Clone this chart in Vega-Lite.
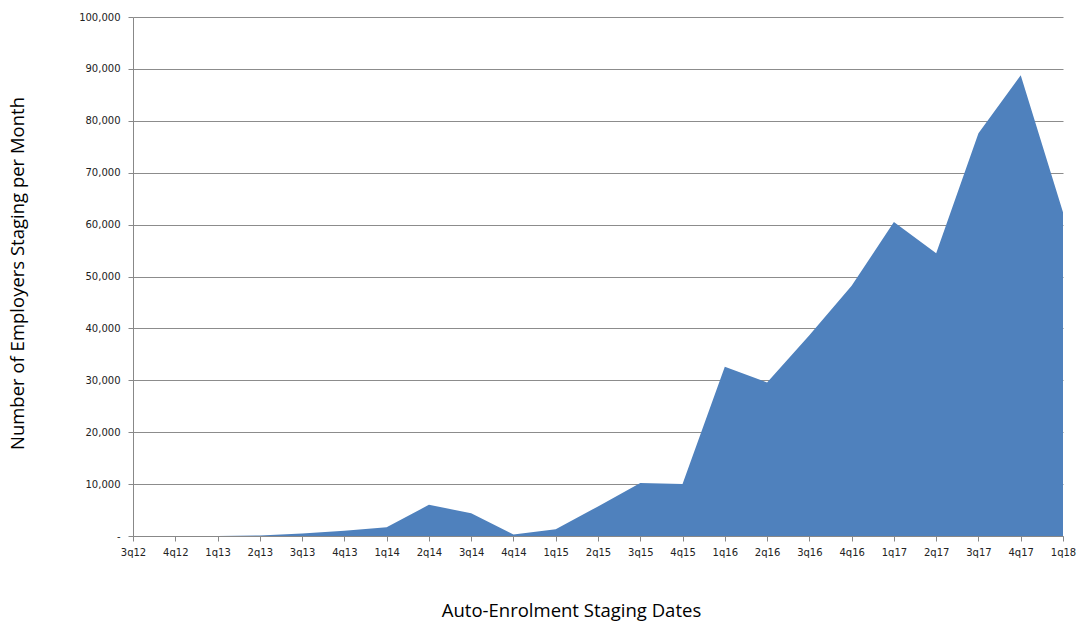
{
  "$schema": "https://vega.github.io/schema/vega-lite/v6.json",
  "autosize": "none",
  "width": 930,
  "height": 519,
  "padding": {"left": 133, "top": 17, "right": 15, "bottom": 85},
  "background": "white",
  "config": {"view": {"stroke": null}},
  "data": {
    "values": [
      {"q": "3q12", "v": 0},
      {"q": "4q12", "v": 0},
      {"q": "1q13", "v": 0},
      {"q": "2q13", "v": 100},
      {"q": "3q13", "v": 500},
      {"q": "4q13", "v": 1000},
      {"q": "1q14", "v": 1700},
      {"q": "2q14", "v": 6000},
      {"q": "3q14", "v": 4400},
      {"q": "4q14", "v": 300},
      {"q": "1q15", "v": 1300},
      {"q": "2q15", "v": 5700},
      {"q": "3q15", "v": 10200},
      {"q": "4q15", "v": 10000},
      {"q": "1q16", "v": 32600},
      {"q": "2q16", "v": 29600},
      {"q": "3q16", "v": 38700},
      {"q": "4q16", "v": 48200},
      {"q": "1q17", "v": 60500},
      {"q": "2q17", "v": 54500},
      {"q": "3q17", "v": 77600},
      {"q": "4q17", "v": 88800},
      {"q": "1q18", "v": 62400}
    ]
  },
  "mark": {"type": "area", "color": "#4f81bd", "opacity": 1},
  "encoding": {
    "x": {
      "field": "q",
      "type": "ordinal",
      "sort": null,
      "scale": {"type": "point", "padding": 0},
      "axis": {
        "title": "Auto-Enrolment Staging Dates",
        "titleFont": "Open Sans",
        "titleFontSize": 18.5,
        "titleFontWeight": "normal",
        "titleColor": "#000000",
        "titleX": 438,
        "titleY": 74,
        "titleAlign": "center",
        "titleBaseline": "middle",
        "labelAngle": 0,
        "labelFont": "DejaVu Sans",
        "labelFontSize": 10,
        "labelColor": "#222222",
        "labelPadding": 6,
        "tickSize": 5,
        "tickColor": "#888888",
        "domainColor": "#888888",
        "grid": false
      }
    },
    "y": {
      "field": "v",
      "type": "quantitative",
      "scale": {"domain": [0, 100000], "nice": false},
      "axis": {
        "title": "Number of Employers Staging per Month",
        "titleFont": "Open Sans",
        "titleFontSize": 18.5,
        "titleFontWeight": "normal",
        "titleColor": "#000000",
        "titleX": -116,
        "titleY": 256,
        "titleAlign": "center",
        "titleBaseline": "middle",
        "values": [0, 10000, 20000, 30000, 40000, 50000, 60000, 70000, 80000, 90000, 100000],
        "labelExpr": "datum.value == 0 ? '-' : format(datum.value, ',')",
        "labelFont": "DejaVu Sans",
        "labelFontSize": 10,
        "labelColor": "#222222",
        "labelPadding": 8,
        "tickSize": 5,
        "tickColor": "#888888",
        "domainColor": "#888888",
        "grid": true,
        "gridColor": "#8c8c8c",
        "gridWidth": 1
      }
    }
  }
}
